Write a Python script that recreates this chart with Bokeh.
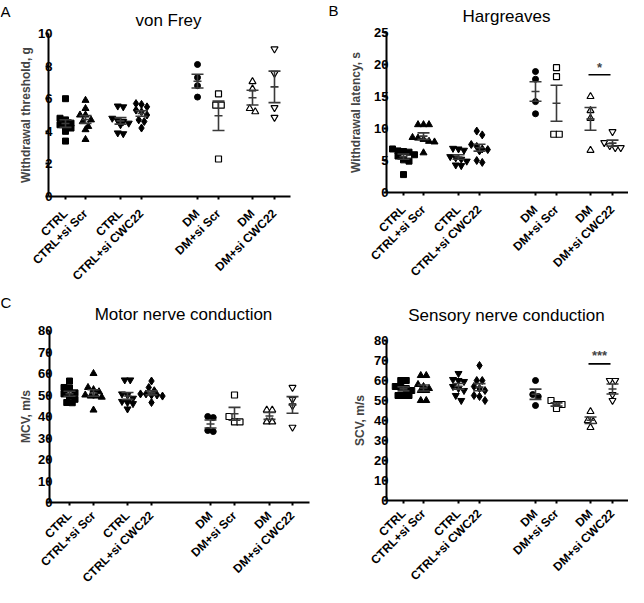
import numpy as np
from math import pi
from bokeh.plotting import figure
from bokeh.models import Range1d, FixedTicker, Label
from bokeh.layouts import column, row
from bokeh.embed import file_html
from bokeh.resources import INLINE

FONT = "Liberation Sans"

group_labels = ["CTRL", "CTRL+si Scr", "CTRL", "CTRL+si CWC22",
                "DM", "DM+si Scr", "DM", "DM+si CWC22"]

# ---- von Frey: withdrawal threshold, g ----
vf_ctrl      = [6.0, 4.8, 4.7, 4.5, 4.4, 4.3, 4.2, 4.0, 3.4]
vf_ctrl_scr  = [5.9, 5.4, 5.0, 5.0, 4.7, 4.6, 4.3, 4.1, 3.5]
vf_ctrl2     = [5.55, 5.5, 4.8, 4.65, 4.6, 4.5, 4.4, 3.9, 3.85]
vf_ctrl_cwc  = [5.7, 5.65, 5.5, 5.3, 5.2, 5.0, 4.7, 4.6, 4.2]
vf_dm        = [8.1, 7.3, 6.8, 6.1]
vf_dm_scr    = [6.3, 5.6, 5.6, 2.3]
vf_dm2       = [7.05, 6.6, 5.4, 5.2]
vf_dm_cwc    = [9.05, 7.55, 5.45, 4.85]

# ---- Hargreaves: withdrawal latency, s ----
hg_ctrl      = [6.8, 6.5, 6.4, 6.3, 5.9, 5.7, 5.1, 4.9, 2.8]
hg_ctrl_scr  = [10.6, 10.6, 10.6, 8.6, 8.5, 8.3, 8.0, 7.9, 6.2]
hg_ctrl2     = [6.9, 6.8, 6.6, 5.6, 5.4, 5.2, 4.9, 4.3, 4.2]
hg_ctrl_cwc  = [9.6, 9.0, 7.5, 7.2, 6.8, 6.7, 6.5, 5.0, 4.7]
hg_dm        = [18.9, 17.7, 14.2, 12.3]
hg_dm_scr    = [19.5, 18.1, 9.1, 9.1]
hg_dm2       = [15.0, 12.8, 11.6, 6.6]
hg_dm_cwc    = [9.5, 7.8, 7.3, 7.0, 7.0]

# ---- Motor nerve conduction: MCV, m/s ----
mcv_ctrl     = [56.5, 53.5, 53.3, 51.0, 50.5, 49.5, 48.0, 46.5, 46.4]
mcv_ctrl_scr = [60.0, 53.5, 52.5, 51.5, 50.0, 49.5, 49.5, 49.0, 43.0]
mcv_ctrl2    = [57.0, 57.0, 50.5, 50.0, 48.5, 47.0, 46.5, 46.0, 43.5]
mcv_ctrl_cwc = [56.5, 53.5, 52.0, 50.5, 50.5, 50.0, 50.0, 49.5, 46.5]
mcv_dm       = [40.0, 39.5, 33.5, 33.0]
mcv_dm_scr   = [50.0, 40.0, 37.5, 37.5]
mcv_dm2      = [43.0, 43.0, 37.5, 37.5]
mcv_dm_cwc   = [53.5, 48.0, 45.0, 35.0]

# ---- Sensory nerve conduction: SCV, m/s ----
scv_ctrl     = [60.0, 60.0, 57.0, 57.0, 56.0, 55.0, 52.5, 52.5, 52.5]
scv_ctrl_scr = [62.5, 62.5, 58.0, 57.0, 56.0, 55.0, 55.0, 50.0, 50.0]
scv_ctrl2    = [63.5, 60.5, 60.0, 59.5, 57.0, 56.0, 55.0, 52.5, 50.0]
scv_ctrl_cwc = [67.5, 60.0, 60.0, 57.0, 56.0, 55.0, 52.5, 52.0, 50.0]
scv_dm       = [60.0, 53.0, 52.0, 47.5]
scv_dm_scr   = [50.0, 48.0, 48.0, 46.0]
scv_dm2      = [44.5, 40.0, 39.5, 36.5]
scv_dm_cwc   = [60.0, 60.0, 53.0, 50.0]

# ---- styling / layout constants ----
markers = ["square", "triangle", "inverted_triangle", "diamond",
           "circle", "square", "triangle", "inverted_triangle"]
filled = [True, True, True, True, True, False, False, False]
msizes = [6, 7, 7, 8, 6, 6, 7, 7]
slots_a = [17, 37, 72, 93, 149, 170, 204, 226]   # px from y axis
slots_c = [20, 44, 78, 102, 161, 185, 220, 243]
BAR = "#3a3a3a"
XLAB_ANGLE = pi / 4


def beeswarm(vals, px_per_unit, step=5.5, dia=6.0):
    order = np.argsort(-vals, kind="stable")
    bins = []
    for i in order:
        if bins and abs(vals[bins[-1][0]] - vals[i]) * px_per_unit < dia:
            bins[-1].append(i)
        else:
            bins.append([i])
    offs = np.zeros(len(vals))
    for b in bins:
        m = len(b)
        for k, i in enumerate(b):
            offs[i] = (k - (m - 1) / 2) * step
    return offs


def make_panel(origin, size, frame, slots, ymax, ystep, ylabel, data,
               letter, letter_xy, title, title_xy, lab_sd, axlab_sd, xlab_sd,
               sig=None):
    ox, oy = origin          # page-space (reference) position of the figure
    w, h = size
    fl, ft, fr, fb = frame   # reference-space axis box
    W, H = fr - fl, fb - ft
    pxu = H / ymax
    p = figure(width=w, height=h,
               x_range=Range1d(ox - fl, ox + w - fl),
               y_range=Range1d(-(oy + h - fb) / pxu, ymax + (ft - oy) / pxu),
               output_backend="svg", toolbar_location=None, title=None,
               min_border_left=0, min_border_right=0,
               min_border_top=0, min_border_bottom=0)
    p.outline_line_color = None
    p.xgrid.visible = False
    p.ygrid.visible = False
    p.background_fill_color = "white"
    p.border_fill_color = "white"
    for ax in (p.xaxis[0], p.yaxis[0]):
        ax.fixed_location = 0
        ax.axis_line_width = 2
        ax.axis_line_color = "black"
        ax.major_tick_line_width = 2
        ax.major_tick_line_color = "black"
        ax.major_tick_out = 3
        ax.major_tick_in = 0
        ax.minor_tick_line_color = None
        ax.major_label_text_font = FONT
        ax.major_label_text_font_style = "bold"
        ax.major_label_text_color = "black"
    p.xaxis.major_label_text_font_size = "12px"
    p.yaxis.major_label_text_font_size = "13px"
    p.yaxis.bounds = (0, ymax)
    p.xaxis.bounds = (0, W)
    p.yaxis.major_label_standoff = lab_sd
    p.xaxis.major_label_standoff = xlab_sd
    p.yaxis.ticker = FixedTicker(ticks=list(range(0, ymax + 1, ystep)))
    p.yaxis.axis_label = ylabel
    p.yaxis.axis_label_text_font = FONT
    p.yaxis.axis_label_text_font_style = "bold"
    p.yaxis.axis_label_text_font_size = "12px"
    p.yaxis.axis_label_standoff = axlab_sd
    p.xaxis.ticker = FixedTicker(ticks=slots)
    p.xaxis.major_label_overrides = {s: lab for s, lab in zip(slots, group_labels)}
    p.xaxis.major_label_orientation = XLAB_ANGLE

    for gi, vals in enumerate(data):
        v = np.asarray(vals, float)
        xs = slots[gi] + beeswarm(v, pxu)
        p.scatter(xs, v, marker=markers[gi], size=msizes[gi],
                  fill_color="black" if filled[gi] else "white",
                  line_color="black", line_width=1.0 if filled[gi] else 1.2)
    for gi, vals in enumerate(data):
        v = np.asarray(vals, float)
        m = v.mean()
        se = v.std(ddof=1) / np.sqrt(len(v))
        x = slots[gi]
        p.segment(x0=[x, x - 6, x - 6, x - 4], y0=[m - se, m + se, m - se, m],
                  x1=[x, x + 6, x + 6, x + 4], y1=[m + se, m + se, m - se, m],
                  line_color=BAR, line_width=1.6)
    if sig is not None:
        g1, g2, ybar, stars, ystar = sig
        p.segment(x0=[slots[g1] - 2], y0=[ybar], x1=[slots[g2] - 2], y1=[ybar],
                  line_color="black", line_width=1.6)
        p.add_layout(Label(x=(slots[g1] + slots[g2]) / 2 - 2, y=ystar, text=stars,
                           text_font=FONT, text_font_size="13px",
                           text_font_style="bold", text_align="center",
                           text_baseline="middle"))

    def ref_text(text, rx, ry, size, align):
        p.add_layout(Label(x=rx - fl, y=(fb - ry) / pxu, text=text,
                           text_font=FONT, text_font_size=size,
                           text_align=align, text_baseline="alphabetic",
                           text_color="black"))

    if letter:
        ref_text(letter, letter_xy[0], letter_xy[1], "15px", "left")
    ref_text(title, title_xy[0], title_xy[1], "17px", "center")
    return p


pa = make_panel((3, 5), (315, 287), (51, 38, 293, 201), slots_a, 10, 2,
                "Withdrawal threshold, g",
                [vf_ctrl, vf_ctrl_scr, vf_ctrl2, vf_ctrl_cwc, vf_dm, vf_dm_scr, vf_dm2, vf_dm_cwc],
                "A", (3, 16), "von Frey", (171, 25), -7, 2, 12)
pb = make_panel((327, 5), (313, 287), (398, 37, 640, 197), slots_a, 25, 5,
                "Withdrawal latency, s",
                [hg_ctrl, hg_ctrl_scr, hg_ctrl2, hg_ctrl_cwc, hg_dm, hg_dm_scr, hg_dm2, hg_dm_cwc],
                "B", (340, 15), "Hargreaves", (518, 21), -5, 8, 12,
                sig=(6, 7, 18.4, "*", 19.5))
pc = make_panel((3, 300), (315, 300), (52, 343, 312, 515), slots_c, 80, 10,
                "MCV, m/s",
                [mcv_ctrl, mcv_ctrl_scr, mcv_ctrl2, mcv_ctrl_cwc, mcv_dm, mcv_dm_scr, mcv_dm2, mcv_dm_cwc],
                "C", (3, 315), "Motor nerve conduction", (186, 327), -6, 2, 8)
pd = make_panel((327, 300), (313, 300), (398, 353, 640, 513), slots_a, 80, 10,
                "SCV, m/s",
                [scv_ctrl, scv_ctrl_scr, scv_ctrl2, scv_ctrl_cwc, scv_dm, scv_dm_scr, scv_dm2, scv_dm_cwc],
                None, None, "Sensory nerve conduction", (518, 328), -5, 4, 8,
                sig=(6, 7, 68.3, "***", 72.5))

layout = column(row(pa, pb), row(pc, pd))
open("out.html", "w").write(file_html(layout, INLINE))
